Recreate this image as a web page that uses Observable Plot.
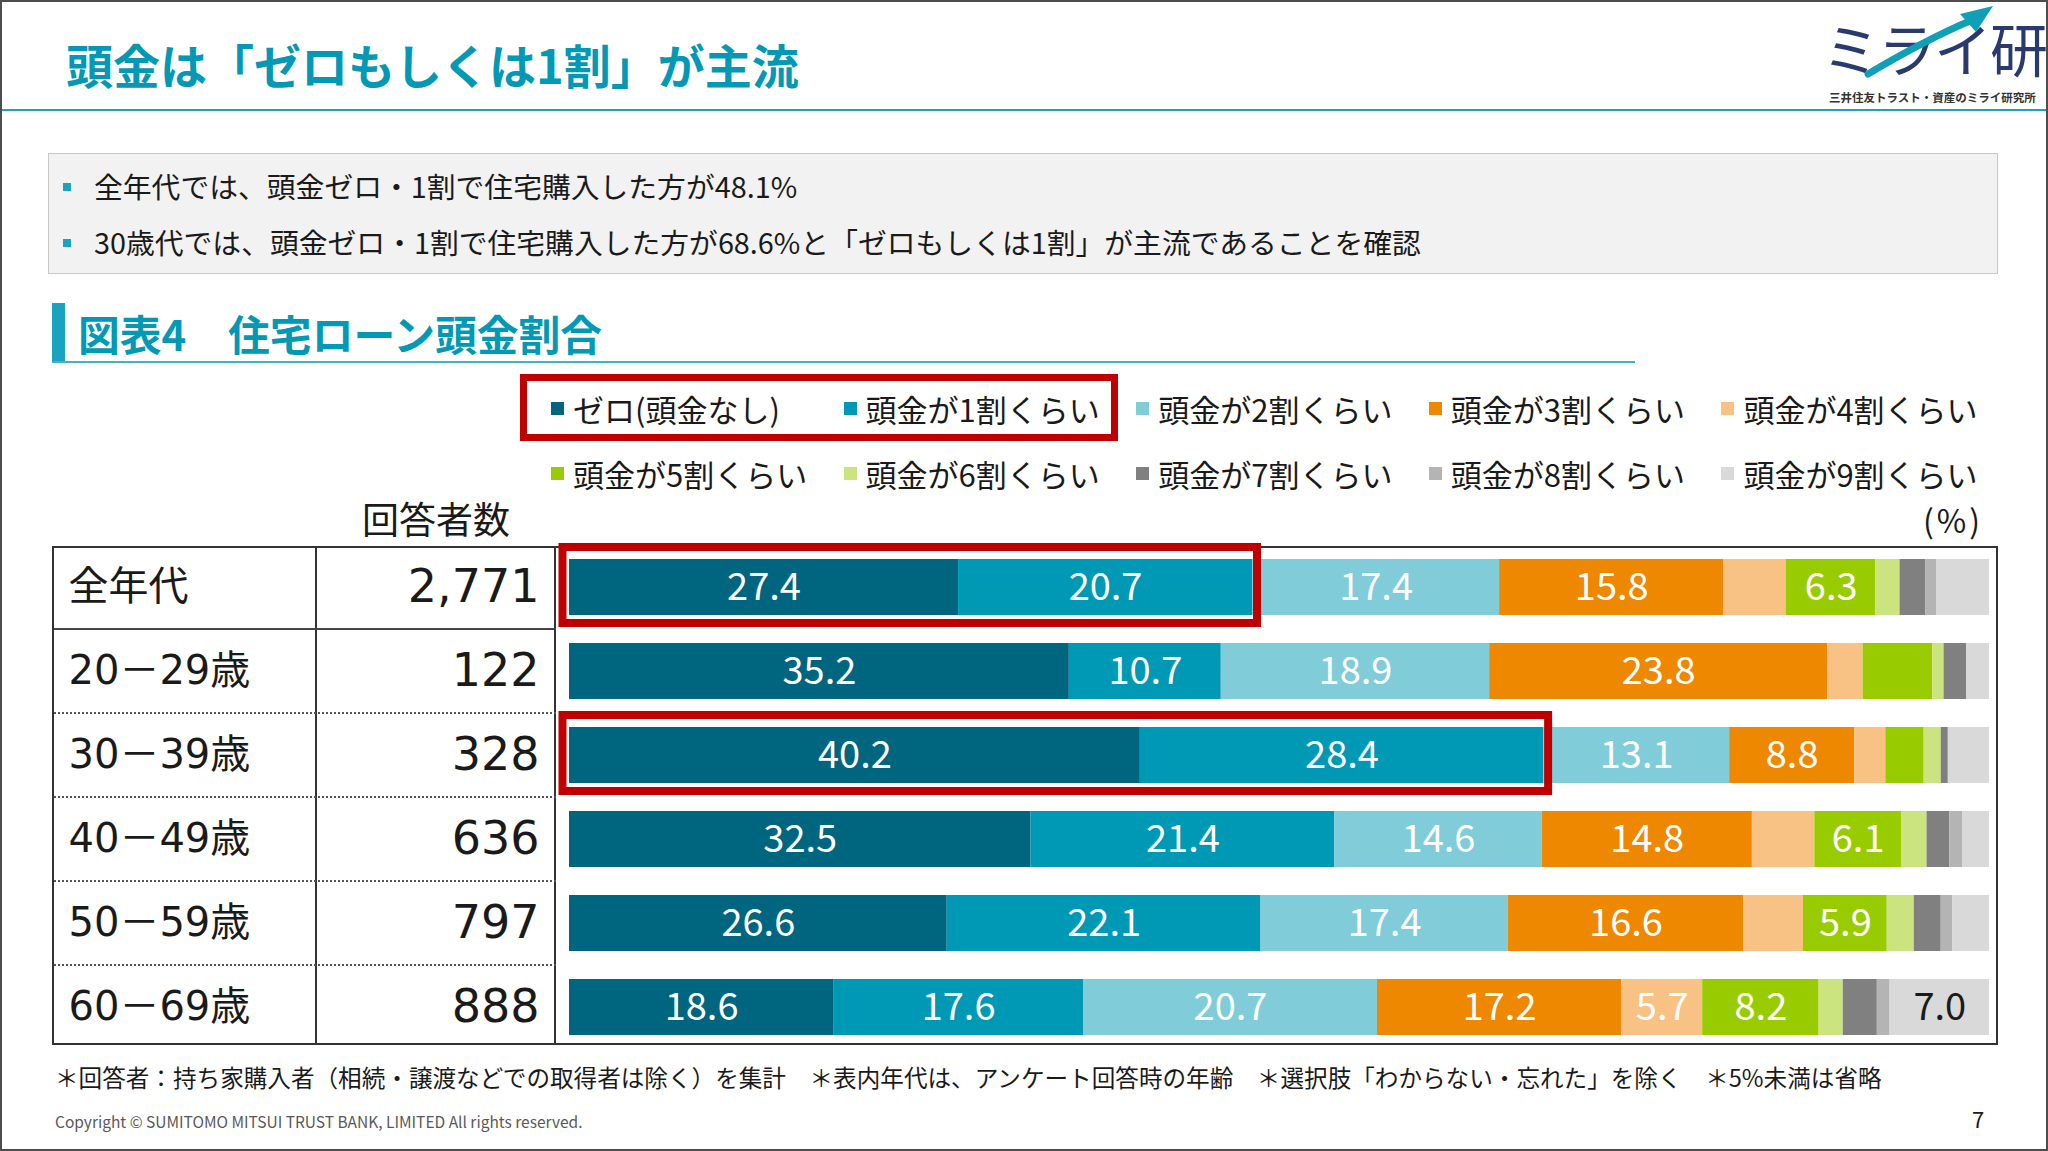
<!DOCTYPE html>
<html>
<head>
<meta charset="utf-8">
<script src="https://cdn.jsdelivr.net/npm/d3@7"></script>
<script src="https://cdn.jsdelivr.net/npm/@observablehq/plot@0.6"></script>
<style>
html,body{margin:0;padding:0;background:#fff;}
body{width:2048px;height:1151px;position:relative;overflow:hidden;font-family:"Noto Sans CJK JP","Noto Sans",sans-serif;color:#1a1a1a;}
.abs{position:absolute;white-space:nowrap;line-height:1;}
#pageframe{position:absolute;left:0;top:0;width:2048px;height:1151px;box-sizing:border-box;border:2px solid #4d4d4d;pointer-events:none;z-index:10;}
#title{left:66px;top:40px;font-size:47px;font-weight:700;color:#0399b4;}
#hrule{position:absolute;left:0;top:109px;width:2048px;height:2px;background:#1aa3be;}
#logo{left:1822px;top:18px;font-size:58px;color:#2b3a6c;letter-spacing:-2px;font-weight:400;}
#logosub{left:1829px;top:92px;font-size:11.5px;color:#333;font-weight:700;}
#logoarrow{position:absolute;left:0;top:0;width:2048px;height:120px;pointer-events:none;}
#box{position:absolute;left:48px;top:153px;width:1950px;height:121px;box-sizing:border-box;background:#f2f2f2;border:1px solid #c8c8c8;}
.bullet{position:absolute;width:8px;height:8px;background:#1aa3be;}
.btext{font-size:28.8px;color:#1a1a1a;}
#secbar{position:absolute;left:52px;top:303px;width:13px;height:60px;background:#1aa3be;}
#sectitle{left:78px;top:313px;font-size:41.8px;font-weight:700;color:#0399b4;}
#secrule{position:absolute;left:52px;top:361px;width:1583px;height:2px;background:#3fb3c8;}
.leg{position:absolute;font-size:31px;color:#1a1a1a;white-space:nowrap;line-height:1;display:flex;align-items:center;}
.sw{display:inline-block;width:13px;height:13px;margin-right:9px;}
#legbox{position:absolute;left:520px;top:374px;width:598px;height:67px;box-sizing:border-box;border:7px solid #c00000;}
#resp{left:360px;top:500px;font-size:37px;width:152px;text-align:center;}
#pct{left:1883px;top:503px;font-size:32px;width:100px;text-align:right;letter-spacing:3px;}
#table{position:absolute;left:52px;top:546px;width:1946px;height:499px;box-sizing:border-box;border:2px solid #333;}
#plotwrap{position:absolute;left:52px;top:546px;width:1946px;height:499px;}
.vline{position:absolute;top:0;width:2px;height:100%;background:#333;}
.hline{position:absolute;left:0;width:502px;height:0;}
#foot{left:55px;top:1066px;font-size:23.6px;color:#1a1a1a;}
#copy{left:55px;top:1114px;font-size:15.5px;color:#595959;}
#pageno{left:1972px;top:1107px;font-size:22px;color:#1a1a1a;}
</style>
</head>
<body>
<div id="pageframe"></div>
<div class="abs" id="title">頭金は「ゼロもしくは1割」が主流</div>
<div id="hrule"></div>
<div class="abs" id="logo">ミライ研</div>
<svg id="logoarrow" viewBox="0 0 2048 120">
  <path d="M1868,74 Q1925,40 1972,20" fill="none" stroke="#0fa0b8" stroke-width="7" stroke-linecap="round"/>
  <path d="M1993,6 L1960,14 L1976,32 Z" fill="#0fa0b8"/>
</svg>
<div class="abs" id="logosub">三井住友トラスト・資産のミライ研究所</div>

<div id="box"></div>
<div class="bullet" style="left:63px;top:183px;"></div>
<div class="abs btext" style="left:94px;top:172px;">全年代では、頭金ゼロ・1割で住宅購入した方が48.1%</div>
<div class="bullet" style="left:63px;top:239px;"></div>
<div class="abs btext" style="left:94px;top:228px;">30歳代では、頭金ゼロ・1割で住宅購入した方が68.6%と「ゼロもしくは1割」が主流であることを確認</div>

<div id="secbar"></div>
<div class="abs" id="sectitle">図表4　住宅ローン頭金割合</div>
<div id="secrule"></div>

<div id="legend"></div>
<div id="legbox"></div>

<div class="abs" id="resp">回答者数</div>
<div class="abs" id="pct">(%)</div>

<div id="table"></div>
<div id="plotwrap"></div>

<div class="abs" id="foot">＊回答者：持ち家購入者（相続・譲渡などでの取得者は除く）を集計　＊表内年代は、アンケート回答時の年齢　＊選択肢「わからない・忘れた」を除く　＊5%未満は省略</div>
<div class="abs" id="copy">Copyright © SUMITOMO MITSUI TRUST BANK, LIMITED All rights reserved.</div>
<div class="abs" id="pageno">7</div>

<script>
// ---- data ----
const ages = ["全年代", "20－29歳", "30－39歳", "40－49歳", "50－59歳", "60－69歳"];
const counts = ["2,771", "122", "328", "636", "797", "888"];
const categories = ["ゼロ(頭金なし)", "頭金が1割くらい", "頭金が2割くらい", "頭金が3割くらい", "頭金が4割くらい",
                    "頭金が5割くらい", "頭金が6割くらい", "頭金が7割くらい", "頭金が8割くらい", "頭金が9割くらい"];
const zero  = [27.4, 35.2, 40.2, 32.5, 26.6, 18.6];
const wari1 = [20.7, 10.7, 28.4, 21.4, 22.1, 17.6];
const wari2 = [17.4, 18.9, 13.1, 14.6, 17.4, 20.7];
const wari3 = [15.8, 23.8,  8.8, 14.8, 16.6, 17.2];
const wari4 = [ 4.4,  2.5,  2.2,  4.4,  4.2,  5.7];
const wari5 = [ 6.3,  4.9,  2.7,  6.1,  5.9,  8.2];
const wari6 = [ 1.7,  0.8,  1.2,  1.8,  1.9,  1.7];
const wari7 = [ 1.8,  1.6,  0.5,  1.6,  1.9,  2.4];
const wari8 = [ 0.8,  0.0,  0.0,  0.9,  0.8,  0.9];
const wari9 = [ 3.7,  1.6,  2.9,  1.9,  2.6,  7.0];
const highlighted = ["全年代", "30－39歳"];
const labelMin = 5;

// ---- style ----
const colors = ["#00657f", "#0099b5", "#80ccd9", "#ee8800", "#f7c283",
                "#99cc00", "#cce480", "#808080", "#b4b4b4", "#d9d9d9"];
const series = [zero, wari1, wari2, wari3, wari4, wari5, wari6, wari7, wari8, wari9];

const data = categories.flatMap((cat, c) => ages.map((age, i) => ({age, cat, value: series[c][i]})));
const hl = ages.map((age, i) => ({age, lo: 0, hi: zero[i] + wari1[i]})).filter(d => highlighted.includes(d.age));
const rowsT = ages.map((age, i) => ({age, count: counts[i]}));
const lastCat = categories[categories.length - 1];

// legend
const legend = document.getElementById("legend");
categories.forEach((cat, k) => {
  const el = document.createElement("div");
  el.className = "leg";
  el.style.left = (551 + (k % 5) * 292.6) + "px";
  el.style.top = (k < 5 ? 393 : 458) + "px";
  el.innerHTML = `<span class="sw" style="background:${colors[k]}"></span><span>${cat}</span>`;
  legend.appendChild(el);
});

const W = 1946, H = 499, ML = 517, MR = 9;
const tableFont = "'DejaVu Sans', 'Noto Sans CJK JP', sans-serif";

const plot = Plot.plot({
  width: W, height: H,
  marginLeft: ML, marginRight: MR, marginTop: 12, marginBottom: 9,
  style: {fontFamily: "'Noto Sans CJK JP', sans-serif", background: "transparent", overflow: "visible"},
  x: {domain: [0, 100], axis: null},
  y: {domain: ages, axis: null, paddingInner: 0.336, paddingOuter: 0},
  color: {domain: categories, range: colors},
  marks: [
    Plot.barX(data, {x: "value", y: "age", fill: "cat"}),
    Plot.text(data, Plot.stackX({x: "value", y: "age", z: "cat",
      text: d => (d.value >= labelMin && d.cat !== lastCat) ? d.value.toFixed(1) : null,
      fill: "#ffffff", fontSize: 38})),
    Plot.text(data, Plot.stackX({x: "value", y: "age", z: "cat",
      text: d => (d.value >= labelMin && d.cat === lastCat) ? d.value.toFixed(1) : null,
      fill: "#1a1a1a", fontSize: 38})),
    Plot.barX(hl, {y: "age", x1: "lo", x2: "hi", fill: "none", stroke: "#c00000", strokeWidth: 8,
      insetLeft: -6.5, insetRight: -5, insetTop: -12, insetBottom: -8}),
    Plot.text(ages, {y: d => d, text: d => d, frameAnchor: "left", textAnchor: "start", dx: -(ML - 16),
      fontSize: 40, fill: "#1a1a1a", fontFamily: tableFont}),
    Plot.text(rowsT, {y: "age", text: "count", frameAnchor: "left", textAnchor: "end", dx: -(ML - 487),
      fontSize: 46, fill: "#1a1a1a", fontFamily: tableFont})
  ]
});
document.getElementById("plotwrap").appendChild(plot);

// table grid (borders between rows, aligned with the band scale)
const table = document.getElementById("table");
[263, 502].forEach(x => {
  const v = document.createElement("div"); v.className = "vline"; v.style.left = (x - 2) + "px"; table.appendChild(v);
});
const ys = plot.scale("y");
const centers = ages.map(a => ys.apply(a) + ys.bandwidth / 2);
for (let i = 1; i < ages.length; i++) {
  const h = document.createElement("div"); h.className = "hline";
  h.style.top = ((centers[i] + centers[i - 1]) / 2 - 3) + "px";
  h.style.borderTop = i === 1 ? "2px solid #444" : "2px dotted #555";
  table.appendChild(h);
}
</script>
</body>
</html>
